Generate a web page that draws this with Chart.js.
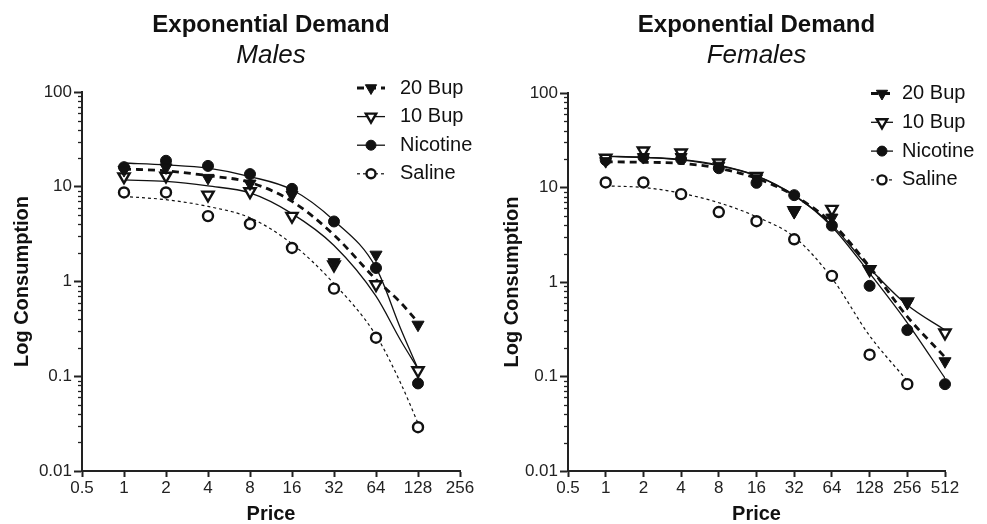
<!DOCTYPE html>
<html>
<head>
<meta charset="utf-8">
<script src="https://cdn.jsdelivr.net/npm/chart.js@4.4.1/dist/chart.umd.min.js"></script>
<style>
  html, body { margin: 0; padding: 0; background: #fff; }
  #wrap { position: relative; width: 987px; height: 524px; }
  .panel { position: absolute; top: 0; height: 524px; }
</style>
</head>
<body>
<div id="wrap">
  <div class="panel" style="left:0;width:490px"><canvas id="males"></canvas></div>
  <div class="panel" style="left:490px;width:497px"><canvas id="females"></canvas></div>
</div>
<script>
// Series and axis ticks
const seriesNames = ['20 Bup', '10 Bup', 'Nicotine', 'Saline'];
const yTicks = [0.01, 0.1, 1, 10, 100];
const yTickLabels = ['0.01', '0.1', '1', '10', '100'];
const yMinorSteps = [2, 3, 4, 5, 6, 7, 8, 9];
const maleXTicks = [0.5, 1, 2, 4, 8, 16, 32, 64, 128, 256];
const femaleXTicks = [0.5, 1, 2, 4, 8, 16, 32, 64, 128, 256, 512];

// Males - observed points
const malePrices = [1, 2, 4, 8, 16, 32, 64, 128];
const male20Bup = [15, 16, 12.4, 10.8, 8.2, 1.6, 1.92, 0.35];
const male10Bup = [12.8, 13, 8.2, 8.9, 4.9, 1.5, 0.93, 0.115];
const maleNicotine = [16.1, 18.8, 16.6, 13.6, 9.5, 4.3, 1.39, 0.084];
const maleSaline = [8.7, 8.7, 4.9, 4.05, 2.26, 0.84, 0.255, 0.029];

// Males - fitted curves
const maleCurvePrices = [1, 2, 4, 8, 16, 32, 64, 96, 128];
const maleFit20Bup = [15.4, 14.7, 13.1, 11.1, 7.0, 3.1, 1.05, 0.6, 0.37];
const maleFit10Bup = [11.8, 11.4, 10.2, 8.6, 5.2, 2.4, 0.7, 0.24, 0.12];
const maleFitNicotine = [17.8, 17.0, 15.7, 12.8, 9.3, 4.4, 1.4, 0.32, 0.12];
const maleFitSaline = [7.9, 7.3, 6.2, 4.7, 2.5, 0.95, 0.27, 0.085, 0.032];

// Females - observed points
const femalePrices = [1, 2, 4, 8, 16, 32, 64, 128, 256, 512];
const female20Bup = [19, 21, 21, 17, 12.5, 5.5, 4.8, 1.35, 0.6, 0.145];
const female10Bup = [20.5, 24.5, 23.3, 18.3, 13.2, 5.7, 5.9, 1.36, 0.62, 0.29];
const femaleNicotine = [19.5, 21, 20, 16, 11.2, 8.3, 3.95, 0.91, 0.31, 0.083];
const femaleSaline = [11.3, 11.3, 8.5, 5.5, 4.4, 2.83, 1.16, 0.17, 0.083];

// Females - fitted curves
const femaleCurvePrices = [1, 2, 4, 8, 16, 32, 64, 128, 256, 512];
const femaleFit20Bup = [18.7, 18.5, 18, 16, 12.5, 8.2, 4.2, 1.45, 0.43, 0.16];
const femaleFit10Bup = [21.3, 20.8, 19.8, 17.2, 13.3, 8.2, 4.0, 1.4, 0.57, 0.31];
const femaleFitNicotine = [21.5, 20.9, 19.6, 17, 13.3, 8.3, 3.85, 1.24, 0.37, 0.096];
const femaleFitSaline = [10.4, 10.0, 8.7, 6.9, 4.9, 3.0, 1.1, 0.27, 0.09];

const INK = '#111';
Chart.defaults.font.family = '"Liberation Sans", Arial, sans-serif';
Chart.defaults.color = INK;

// marker + line look for each series (same order as seriesNames)
const seriesStyles = [
  { pointStyle: 'triangle', rotation: 180, radius: 7, fill: INK, border: 1, lineWidth: 2.8, dash: [7, 5] },
  { pointStyle: 'triangle', rotation: 180, radius: 6.5, fill: '#fff', border: 2.4, lineWidth: 1.3, dash: [] },
  { pointStyle: 'circle', rotation: 0, radius: 5.5, fill: INK, border: 1, lineWidth: 1.3, dash: [] },
  { pointStyle: 'circle', rotation: 0, radius: 5, fill: '#fff', border: 2.4, lineWidth: 1.2, dash: [3, 3] }
];

function pairs(xs, ys) {
  return ys.map((v, j) => ({ x: xs[j], y: v }));
}

// Prism-style legend: short line with marker in the middle
function legendPlugin(pos) {
  return {
    id: 'prismLegend',
    afterDraw(chart) {
      const ctx = chart.ctx;
      ctx.save();
      seriesNames.forEach((name, i) => {
        const st = seriesStyles[i];
        const y = pos.y + i * pos.gap;
        ctx.beginPath();
        ctx.setLineDash(st.dash);
        ctx.lineWidth = st.lineWidth;
        ctx.strokeStyle = INK;
        ctx.moveTo(pos.x - pos.half, y);
        ctx.lineTo(pos.x + pos.half, y);
        ctx.stroke();
        ctx.setLineDash([]);
        ctx.fillStyle = st.fill;
        ctx.lineWidth = st.border;
        Chart.helpers.drawPoint(ctx, {
          pointStyle: st.pointStyle, rotation: st.rotation,
          radius: st.radius - 0.5, borderWidth: st.border
        }, pos.x, y);
        ctx.fillStyle = INK;
        ctx.font = '20px "Liberation Sans", Arial, sans-serif';
        ctx.textBaseline = 'middle';
        ctx.textAlign = 'left';
        ctx.fillText(name, pos.textX, y);
      });
      ctx.restore();
    }
  };
}

// small minor ticks on the log y axis
const minorTicks = {
  id: 'minorTicks',
  afterDraw(chart) {
    const s = chart.scales.y;
    const ctx = chart.ctx;
    ctx.save();
    ctx.strokeStyle = '#222';
    ctx.lineWidth = 1.3;
    yTicks.slice(0, -1).forEach(d => {
      yMinorSteps.forEach(m => {
        const y = Math.round(s.getPixelForValue(d * m)) + 0.5;
        ctx.beginPath();
        ctx.moveTo(s.right - 4, y);
        ctx.lineTo(s.right, y);
        ctx.stroke();
      });
    });
    ctx.restore();
  }
};

function buildChart(id, cfg) {
  const datasets = [];
  seriesNames.forEach((name, i) => {
    const st = seriesStyles[i];
    datasets.push({
      label: name,
      data: pairs(cfg.prices, cfg.points[i]),
      showLine: false,
      order: 0,
      clip: false,
      pointStyle: st.pointStyle,
      pointRotation: st.rotation,
      pointRadius: st.radius,
      pointBackgroundColor: st.fill,
      pointBorderColor: INK,
      pointBorderWidth: st.border
    });
    datasets.push({
      label: name + ' fit',
      data: pairs(cfg.curvePrices, cfg.curves[i]),
      showLine: true,
      order: 1,
      pointRadius: 0,
      borderColor: INK,
      borderWidth: st.lineWidth,
      borderDash: st.dash,
      cubicInterpolationMode: 'monotone',
      fill: false
    });
  });

  return new Chart(document.getElementById(id), {
    type: 'scatter',
    data: { datasets: datasets },
    options: {
      responsive: true,
      maintainAspectRatio: false,
      animation: false,
      events: [],
      layout: { padding: { left: 0, right: cfg.padRight, top: 0, bottom: 0 } },
      plugins: {
        legend: { display: false },
        tooltip: { enabled: false },
        title: {
          display: true, text: 'Exponential Demand', fullSize: false,
          font: { size: 24, weight: 'bold' }, color: INK,
          padding: { top: 11, bottom: 0 }
        },
        subtitle: {
          display: true, text: cfg.subtitle, fullSize: false,
          font: { size: 26, style: 'italic', weight: 'normal' }, color: INK,
          padding: { top: 0, bottom: cfg.subPad }
        }
      },
      scales: {
        x: {
          type: 'logarithmic',
          min: 0.5,
          max: cfg.xMax,
          afterBuildTicks: s => { s.ticks = cfg.xTicks.map(v => ({ value: v })); },
          afterFit: s => { s.height = 53; },
          ticks: {
            callback: v => String(v),
            font: { size: 17 }, color: '#222', padding: 1,
            autoSkip: false, maxRotation: 0
          },
          grid: { drawOnChartArea: false, drawTicks: true, tickLength: 6, tickWidth: 2, tickColor: '#222' },
          border: { color: '#222', width: 2 },
          title: {
            display: true, text: 'Price', color: INK,
            font: { size: 20, weight: 'bold', lineHeight: 1 },
            padding: { top: 0, bottom: 0 }
          }
        },
        y: {
          type: 'logarithmic',
          min: 0.01,
          max: 100,
          afterBuildTicks: s => { s.ticks = yTicks.map(v => ({ value: v })); },
          afterFit: s => { s.width = cfg.yWidth; },
          ticks: {
            callback: v => yTickLabels[yTicks.indexOf(v)],
            font: { size: 17 }, color: '#222', padding: 2,
            autoSkip: false
          },
          grid: { drawOnChartArea: false, drawTicks: true, tickLength: 8, tickWidth: 2, tickColor: '#222' },
          border: { color: '#222', width: 2 },
          title: {
            display: true, text: 'Log Consumption', color: INK,
            font: { size: 20, weight: 'bold' },
            padding: { top: 10, bottom: 0 }
          }
        }
      }
    },
    plugins: [minorTicks, legendPlugin(cfg.legend)]
  });
}

buildChart('males', {
  subtitle: 'Males',
  prices: malePrices,
  points: [male20Bup, male10Bup, maleNicotine, maleSaline],
  curvePrices: maleCurvePrices,
  curves: [maleFit20Bup, maleFit10Bup, maleFitNicotine, maleFitSaline],
  xTicks: maleXTicks,
  xMax: 256,
  yWidth: 82,
  padRight: 30,
  subPad: 21,
  legend: { x: 371, half: 14, y: 88, gap: 28.6, textX: 400 }
});

buildChart('females', {
  subtitle: 'Females',
  prices: femalePrices,
  points: [female20Bup, female10Bup, femaleNicotine, femaleSaline],
  curvePrices: femaleCurvePrices,
  curves: [femaleFit20Bup, femaleFit10Bup, femaleFitNicotine, femaleFitSaline],
  xTicks: femaleXTicks,
  xMax: 512,
  yWidth: 78,
  padRight: 42,
  subPad: 22,
  legend: { x: 392, half: 11, y: 93.5, gap: 28.8, textX: 412 }
});
</script>
</body>
</html>
